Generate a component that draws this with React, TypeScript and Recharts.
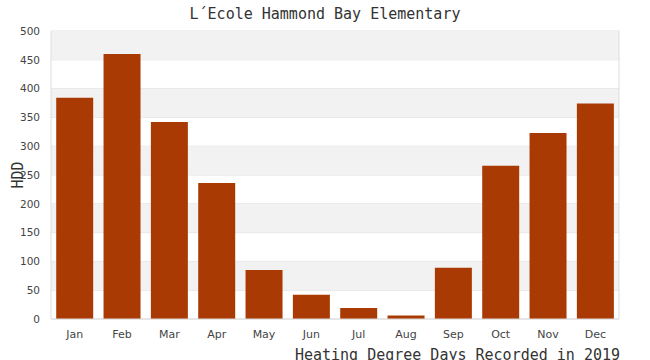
import { Bar, BarChart, CartesianGrid, ReferenceArea, XAxis, YAxis } from "recharts";

const months = ["Jan", "Feb", "Mar", "Apr", "May", "Jun", "Jul", "Aug", "Sep", "Oct", "Nov", "Dec"];
const hdd = [384, 460, 342, 236, 85, 42, 19, 6, 89, 266, 323, 374];
const yTicks = [0, 50, 100, 150, 200, 250, 300, 350, 400, 450, 500];

const data = months.map((month, i) => ({ month, hdd: hdd[i] }));

// shaded bands: 50-100, 150-200, ... 450-500
const bands = yTicks.filter((_, i) => i % 2 === 1).map((t) => [t, t + 50]);

const mono = "'DejaVu Sans Mono', monospace";

export default function App() {
	return (
		<div style={{ position: "absolute", left: 0, top: 0, width: 650, height: 360, overflow: "hidden", background: "#fff" }}>
			<div
				style={{
					position: "absolute",
					left: 0,
					width: 650,
					top: 5,
					textAlign: "center",
					fontFamily: mono,
					fontSize: 15,
					color: "#333",
				}}
			>
				L´Ecole Hammond Bay Elementary
			</div>
			<div
				style={{
					position: "absolute",
					left: 18,
					top: 175,
					transform: "translate(-50%, -50%) rotate(-90deg)",
					fontFamily: mono,
					fontSize: 15,
					color: "#333",
					whiteSpace: "nowrap",
				}}
			>
				HDD
			</div>
			<BarChart
				width={650}
				height={360}
				data={data}
				margin={{ top: 31, right: 30, bottom: 11, left: 0 }}
				barCategoryGap="11%"
			>
				{bands.map(([a, b]) => (
					<ReferenceArea key={a} y1={a} y2={b} fill="#f2f2f2" fillOpacity={1} stroke="none" ifOverflow="visible" />
				))}
				<CartesianGrid vertical={false} stroke="#e0e0e0" />
				<XAxis
					dataKey="month"
					height={30}
					tick={{ fontSize: 11, fill: "#444", fontFamily: "'DejaVu Sans', sans-serif" }}
					tickLine={false}
					tickMargin={5}
					axisLine={{ stroke: "#ddd" }}
				/>
				<YAxis
					width={51}
					domain={[0, 500]}
					ticks={yTicks}
					tick={{ fontSize: 10.5, fill: "#444", fontFamily: "'DejaVu Sans', sans-serif" }}
					tickLine={false}
					tickMargin={5}
					axisLine={{ stroke: "#ddd" }}
				/>
				<YAxis
					yAxisId="right"
					orientation="right"
					width={1}
					domain={[0, 500]}
					tick={false}
					tickLine={false}
					axisLine={{ stroke: "#ddd" }}
				/>
				<Bar dataKey="hdd" fill="#aa3a03" isAnimationActive={false} />
			</BarChart>
			<div
				style={{
					position: "absolute",
					right: 30,
					top: 346,
					fontFamily: mono,
					fontSize: 15,
					color: "#333",
					whiteSpace: "nowrap",
				}}
			>
				Heating Degree Days Recorded in 2019
			</div>
		</div>
	);
}
